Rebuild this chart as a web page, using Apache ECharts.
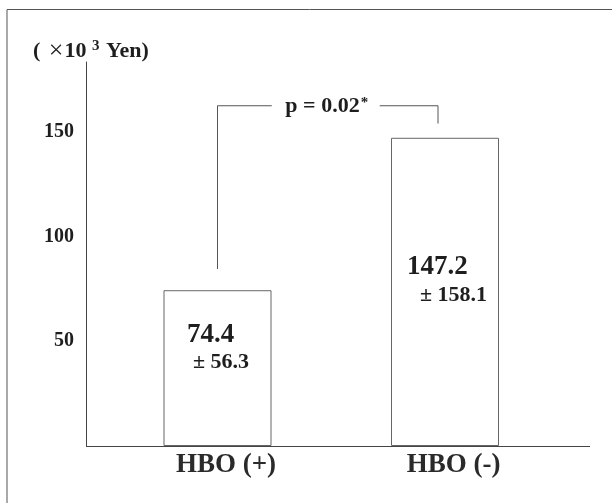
<!DOCTYPE html>
<html>
<head>
<meta charset="utf-8">
<script src="https://cdn.jsdelivr.net/npm/echarts@6/dist/echarts.min.js"></script>
<style>
html,body{margin:0;padding:0;background:#fff;}
#main{width:612px;height:503px;}
</style>
</head>
<body>
<div id="main"></div>
<script>
// ---- data ----
const categories = ['HBO (+)', 'HBO (-)'];
const means = [74.4, 147.2];
const sds = [56.3, 158.1];
const yTickValues = [50, 100, 150];
const pValueText = 'p = 0.02';
// bracket levels in data units (y)
const bracketTop = 162.5;
const bracketLeftBottom = 84.5;
const bracketRightBottom = 154;

// ---- styles ----
const FONT = "'Liberation Serif', 'Times New Roman', serif";
const TXT = '#1e1e1e';
const LINE = '#555';
const labelStyles = [
  { pos: [23.5, 31], indent: 6, gap: 26 },
  { pos: [16, 115], indent: 13, gap: 29 }
];

const chart = echarts.init(document.getElementById('main'), null, { renderer: 'canvas' });

const barData = means.map((v, i) => ({
  value: v,
  label: {
    show: true,
    position: labelStyles[i].pos,
    formatter: '{a|' + v.toFixed(1) + '}\n{b|± ' + sds[i].toFixed(1) + '}',
    rich: {
      a: { fontFamily: FONT, fontWeight: 'bold', fontSize: 27, lineHeight: 28, color: TXT },
      b: { fontFamily: FONT, fontWeight: 'bold', fontSize: 22, lineHeight: labelStyles[i].gap, color: TXT, padding: [0, 0, 0, labelStyles[i].indent] }
    }
  }
}));

const option = {
  animation: false,
  backgroundColor: '#fff',
  grid: { left: 103.75, right: 53.25, top: 62, bottom: 57 },
  xAxis: {
    type: 'category',
    data: categories,
    axisLine: { show: false },
    axisTick: { show: false },
    axisLabel: {
      margin: 6,
      padding: [0, 0, 0, 17],
      fontFamily: FONT, fontWeight: 'bold', fontSize: 27, color: '#2a2a2a'
    }
  },
  yAxis: {
    type: 'value',
    min: 0, max: 183.4, interval: 50,
    offset: 17.75,
    splitLine: { show: false },
    axisTick: { show: false },
    axisLine: { show: true, lineStyle: { color: '#444', width: 1 } },
    axisLabel: {
      margin: 12,
      fontFamily: FONT, fontWeight: 'bold', fontSize: 20, color: TXT,
      formatter: v => (yTickValues.indexOf(v) >= 0 ? String(v) : '')
    }
  },
  series: [{
    type: 'bar',
    data: barData,
    barWidth: 108,
    itemStyle: { color: '#fff', borderColor: '#666', borderWidth: 1 }
  }]
};
chart.setOption(option);

// ---- annotations computed from the axes ----
const pL = chart.convertToPixel({ seriesIndex: 0 }, [0, bracketTop]);
const pLb = chart.convertToPixel({ seriesIndex: 0 }, [0, bracketLeftBottom]);
const pR = chart.convertToPixel({ seriesIndex: 0 }, [1, bracketTop]);
const pRb = chart.convertToPixel({ seriesIndex: 0 }, [1, bracketRightBottom]);
const zero = chart.convertToPixel({ seriesIndex: 0 }, [0, 0]);
const rightX = pR[0] - 7;
const midX = (pL[0] + rightX) / 2;

chart.setOption({
  graphic: [
    // frame
    { type: 'polyline', shape: { points: [[7, 503], [7, 9.5], [612, 9.5]] }, style: { stroke: '#555', lineWidth: 1, fill: null }, z: 100 },
    // baseline
    { type: 'line', shape: { x1: 86, y1: Math.round(zero[1]) + 0.5, x2: 590, y2: Math.round(zero[1]) + 0.5 }, style: { stroke: '#444', lineWidth: 1.2 }, z: 100 },
    // bracket
    { type: 'polyline', shape: { points: [[pL[0], pLb[1]], [pL[0], pL[1]], [midX - 56, pL[1]]] }, style: { stroke: LINE, lineWidth: 1, fill: null }, z: 100 },
    { type: 'polyline', shape: { points: [[midX + 52, pL[1]], [rightX, pL[1]], [rightX, pRb[1]]] }, style: { stroke: LINE, lineWidth: 1, fill: null }, z: 100 },
    {
      type: 'text', x: midX - 1, y: pL[1] + 1, z: 100,
      style: {
        text: '{a|' + pValueText + '}{s|*}',
        align: 'center', verticalAlign: 'middle',
        rich: {
          a: { fontFamily: FONT, fontWeight: 'bold', fontSize: 22, fill: TXT },
          s: { fontFamily: FONT, fontWeight: 'bold', fontSize: 15, fill: TXT, padding: [0, 0, 8, 1] }
        }
      }
    },
    // y unit title
    {
      type: 'text', x: 33, y: 51, z: 100,
      style: {
        text: '{a|( }{x|×}{a|10 }{s|3}{a| Yen)}',
        align: 'left', verticalAlign: 'middle',
        rich: {
          a: { fontFamily: FONT, fontWeight: 'bold', fontSize: 22, fill: TXT },
          x: { fontFamily: FONT, fontWeight: 'normal', fontSize: 26, fill: TXT, padding: [0, 1, 0, 3] },
          s: { fontFamily: FONT, fontWeight: 'bold', fontSize: 15, fill: TXT, padding: [0, 1, 9, 0] }
        }
      }
    }
  ]
});
</script>
</body>
</html>
